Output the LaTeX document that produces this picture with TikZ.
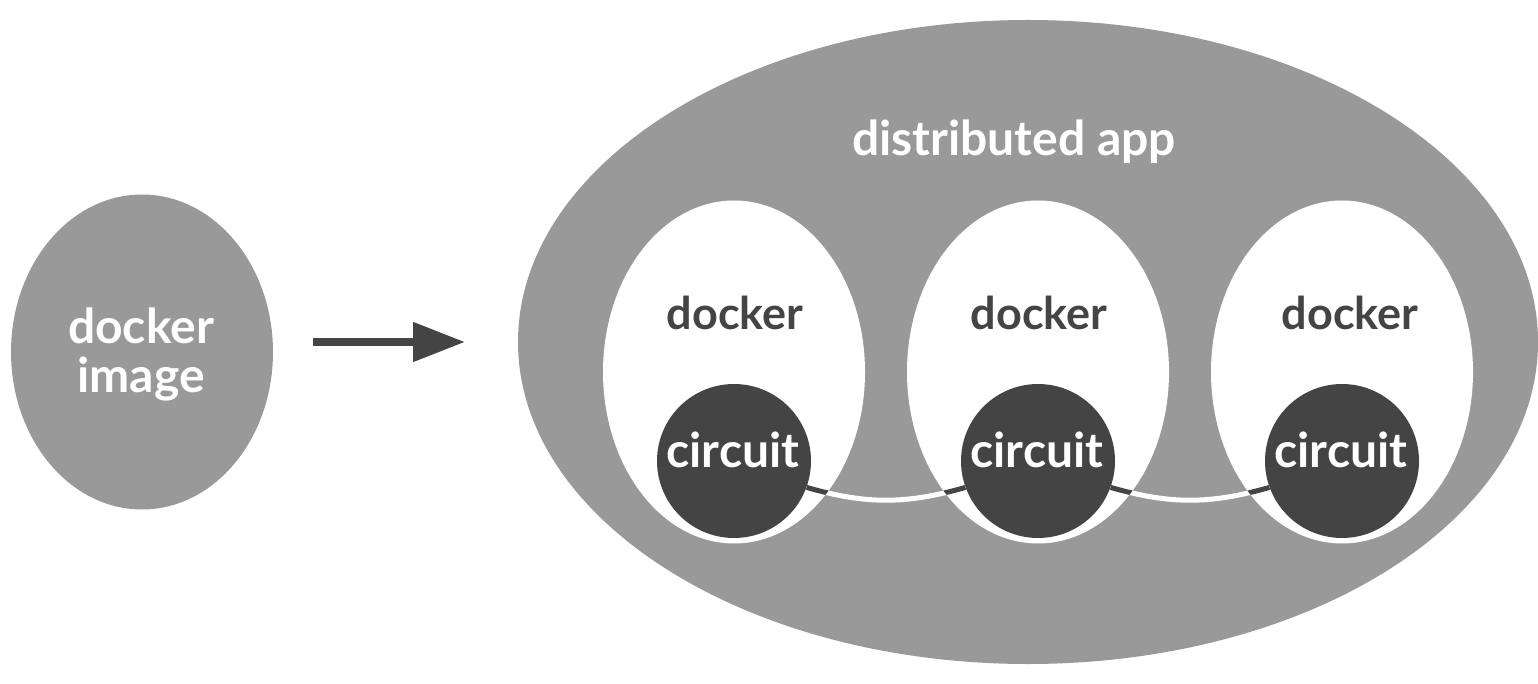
\documentclass[tikz,border=0pt]{standalone}
\usepackage{fontspec}
\setmainfont{Lato}[UprightFont=* Bold]
\usepackage{tikz}
\usetikzlibrary{shapes.geometric,arrows.meta}
\definecolor{blobgray}{HTML}{999999}
\definecolor{coal}{HTML}{444444}
\newcommand{\bigtext}{\fontsize{45}{49}\selectfont}
\newcommand{\hugetext}{\fontsize{48}{49}\selectfont}

\tikzset{
    blob/.style={ellipse, fill=blobgray, inner sep=0pt},
    dockerbox/.style={ellipse, fill=white, inner sep=0pt,
        minimum width=262pt, minimum height=343pt},
    circuitdot/.style={circle, fill=coal, inner sep=0pt, minimum size=154pt},
    txt/.style={inner sep=0pt, anchor=base, font=\bigtext},
    link/.style={line width=5pt, bend right=16},
}

\begin{document}
\begin{tikzpicture}[x=1pt, y=-1pt]
    \useasboundingbox (0,0) rectangle (1538,684);

    % Image
    \node[blob, minimum width=262pt, minimum height=315pt] (image) at (142,352) {};
    \node[txt, white, align=center, font=\hugetext] (imagetxt) at (141,392) {docker\\image};

    % Arrow
    \coordinate (from) at (313,342);
    \coordinate (to) at (465,342);
    \draw[coal, line width=8pt, -{Triangle[length=52pt, width=38pt]}] (from) -- (to);

    % App
    \node[blob, minimum width=1020pt, minimum height=644pt] (app) at (1028,342) {};
    \node[txt, white, font=\hugetext] (apptxt) at (1014,156) {distributed app};

    % Containers
    \node[dockerbox] (d1) at (734,372) {};
    \node[dockerbox] (d2) at (1038,372) {};
    \node[dockerbox] (d3) at (1342,372) {};

    \node[txt, coal] (d1txt) at (735,330) {docker};
    \node[txt, coal] (d2txt) at (1039,330) {docker};
    \node[txt, coal] (d3txt) at (1350,330) {docker};

    \node[circuitdot] (c1) at (734,461) {};
    \node[circuitdot] (c2) at (1038,461) {};
    \node[circuitdot] (c3) at (1342,461) {};

    \node[txt, white, font=\hugetext] (c1txt) at (733,467) {circuit};
    \node[txt, white, font=\hugetext] (c2txt) at (1037,467) {circuit};
    \node[txt, white, font=\hugetext] (c3txt) at (1341,467) {circuit};

    % Links
    \draw[link, white] (c1.-20) to (c2.200);
    \draw[link, white] (c2.-20) to (c3.200);
    \foreach \d in {d1,d2,d3} {
        \begin{scope}
            \clip (\d.center) ellipse (131pt and 171.5pt);
            \draw[link, coal] (c1.-20) to (c2.200);
            \draw[link, coal] (c2.-20) to (c3.200);
        \end{scope}
    }
\end{tikzpicture}
\end{document}
